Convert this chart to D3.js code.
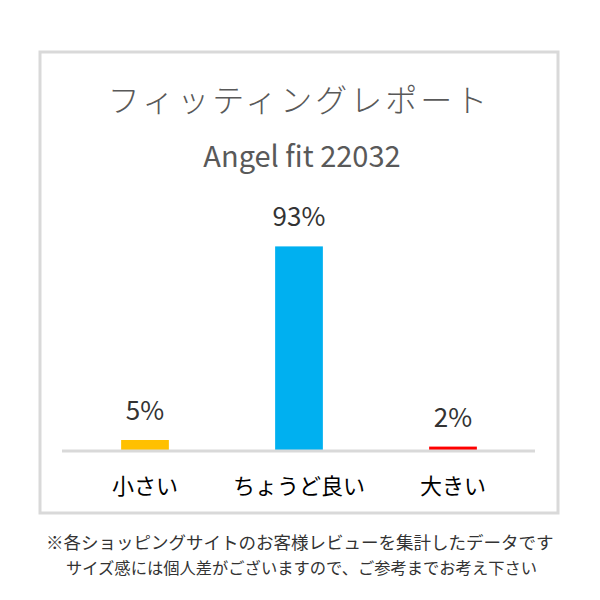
<!DOCTYPE html>
<html><head><meta charset="utf-8">
<script src="https://cdn.jsdelivr.net/npm/d3@7"></script>
<style>body{margin:0;background:#fff}</style></head>
<body><svg id="c" width="600" height="600"></svg>
<script>
const categories=["小さい","ちょうど良い","大きい"];
const values=[5,93,2];
const labels=["5%","93%","2%"];
const colors=["#FFC000","#00B0F0","#FF0000"];
const svg=d3.select("#c");
const font="'Noto Sans CJK JP','Noto Sans',sans-serif";
svg.append("rect").attr("x",40).attr("y",52).attr("width",518).attr("height",461).attr("fill","#fff").attr("stroke","#d9d9d9").attr("stroke-width",3);
svg.append("text").attr("x",299).attr("y",112).attr("text-anchor","middle").attr("font-family",font).attr("font-weight",300).attr("font-size",32).attr("fill","#595959").attr("letter-spacing",3).text("フィッティングレポート");
svg.append("text").attr("x",302).attr("y",167).attr("text-anchor","middle").attr("font-family",font).attr("font-size",29).attr("fill","#595959").text("Angel fit 22032");
const x=d3.scaleBand().domain(categories).range([68,530]).paddingInner(0.69).paddingOuter(0.345);
const y=d3.scaleLinear().domain([0,100]).range([451,231]);
svg.selectAll(".b").data(values).enter().append("rect").attr("x",(d,i)=>x(categories[i])).attr("width",x.bandwidth()).attr("y",d=>y(d)).attr("height",d=>451-y(d)).attr("fill",(d,i)=>colors[i]);
svg.append("line").attr("x1",62).attr("x2",535).attr("y1",451).attr("y2",451).attr("stroke","#d9d9d9").attr("stroke-width",3);
svg.selectAll(".l").data(values).enter().append("text").attr("x",(d,i)=>x(categories[i])+x.bandwidth()/2).attr("y",d=>y(d)-20).attr("text-anchor","middle").attr("font-family",font).attr("font-size",26).attr("fill","#333").text((d,i)=>labels[i]);
svg.selectAll(".c").data(categories).enter().append("text").attr("x",d=>x(d)+x.bandwidth()/2).attr("y",494).attr("text-anchor","middle").attr("font-family",font).attr("font-size",22).attr("fill","#000").text(d=>d);
svg.append("text").attr("x",46).attr("y",549).attr("font-family",font).attr("font-size",17.5).attr("fill","#333").text("※各ショッピングサイトのお客様レビューを集計したデータです");
svg.append("text").attr("x",66).attr("y",574).attr("font-family",font).attr("font-size",16.3).attr("fill","#333").text("サイズ感には個人差がございますので、ご参考までお考え下さい");
</script></body></html>
